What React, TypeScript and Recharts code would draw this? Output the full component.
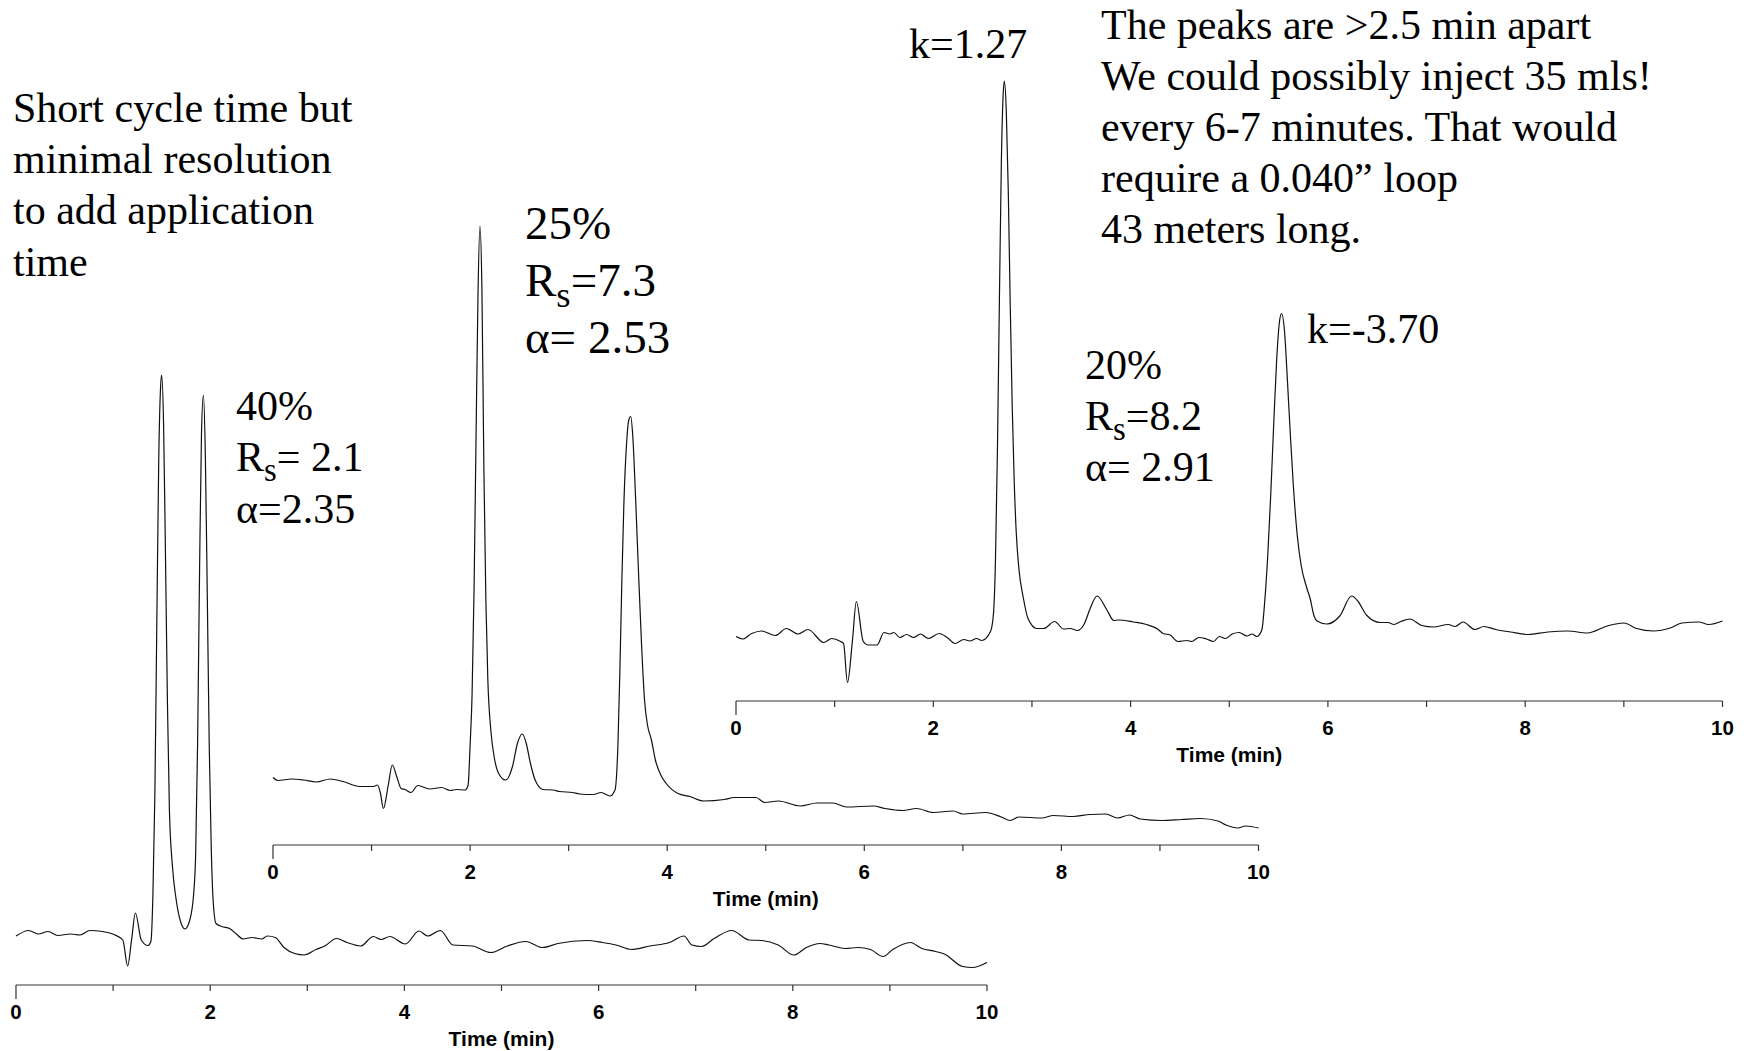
import { LineChart, Line, XAxis, YAxis } from "recharts";

// shared time axis
const timeTicks = [0, 1, 2, 3, 4, 5, 6, 7, 8, 9, 10];
const labelledTicks = [0, 2, 4, 6, 8, 10];

// 40% modifier run
const run40Time = [
  0, 0.13, 0.23, 0.33, 0.43, 0.56, 0.66, 0.76, 0.89, 1.02, 1.1, 1.15, 1.19, 1.23, 1.29, 1.36,
  1.39, 1.41, 1.43, 1.45, 1.47, 1.49, 1.5, 1.52, 1.54, 1.56, 1.58, 1.61, 1.65, 1.69, 1.74,
  1.79, 1.83, 1.85, 1.87, 1.89, 1.91, 1.93, 1.95, 1.97, 1.99, 2.01, 2.03, 2.06, 2.12, 2.2,
  2.27, 2.34, 2.43, 2.53, 2.59, 2.67, 2.76, 2.87, 2.97, 3.09, 3.18, 3.3, 3.41, 3.55, 3.68,
  3.76, 3.85, 4.01, 4.15, 4.24, 4.37, 4.5, 4.7, 4.89, 5.06, 5.25, 5.42, 5.58, 5.88, 6.04,
  6.18, 6.34, 6.53, 6.73, 6.88, 6.96, 7.06, 7.19, 7.37, 7.55, 7.68, 7.85, 8.01, 8.14, 8.28,
  8.37, 8.54, 8.67, 8.8, 8.93, 9.03, 9.21, 9.33, 9.47, 9.56, 9.75, 9.85, 10,
];
const run40Signal = [
  -0.2, 0.9, 0.2, 0.7, -0.1, 0.2, 0, 0.9, 0.7, 0, -1, -6.2, -1, 4.4, -1, -2.1,
  -1.2, 8, 28, 62, 95, 110, 112, 102, 75, 46, 25, 14, 7, 3, 1.2,
  3, 8.3, 16, 38, 72, 100, 108, 96, 68, 38, 18, 7, 2.3, 1.7, 1.3,
  0.2, -0.8, -0.5, -0.8, -0.2, -0.5, -2.5, -3.7, -4, -2.9, -2.2, -0.7, -1.5, -2.2, -0.3,
  -0.9, -0.3, -1.8, 0.8, -0.2, 0.9, -2, -2.2, -3.5, -2.2, -1.3, -2.5, -1.7, -1.1, -1.5,
  -2, -2.9, -2.2, -1.5, -0.2, -2, -2.3, -0.7, 0.9, -1, -1.1, -2, -4, -2.5, -1.7,
  -2, -2.7, -2.5, -2.9, -4.3, -2.9, -1.5, -2.7, -3.3, -3.8, -6.3, -6.5, -5.5,
];

// 25% modifier run
const run25Time = [
  0, 0.05, 0.19, 0.31, 0.44, 0.58, 0.71, 0.88, 1.02, 1.06, 1.09, 1.12, 1.17, 1.21, 1.26, 1.3,
  1.34, 1.4, 1.47, 1.59, 1.71, 1.8, 1.86, 1.95, 1.98, 2.0, 2.02, 2.04, 2.06, 2.08, 2.1,
  2.12, 2.14, 2.16, 2.18, 2.21, 2.25, 2.29, 2.36, 2.43, 2.48, 2.53, 2.57, 2.61, 2.66, 2.74,
  2.84, 2.91, 3.04, 3.11, 3.25, 3.33, 3.42, 3.47, 3.5, 3.52, 3.54, 3.56, 3.59, 3.61, 3.63,
  3.65, 3.68, 3.71, 3.74, 3.77, 3.8, 3.84, 3.88, 3.94, 3.99, 4.11, 4.23, 4.37, 4.58, 4.68,
  4.9, 4.99, 5.13, 5.35, 5.52, 5.68, 5.82, 6.09, 6.21, 6.39, 6.53, 6.7, 6.9, 7.0, 7.23,
  7.39, 7.48, 7.57, 7.8, 7.92, 8.12, 8.29, 8.45, 8.57, 8.69, 8.8, 9.02, 9.22, 9.41, 9.59,
  9.67, 9.79, 9.87, 10,
];
const run25Signal = [
  0.5, -0.1, 0.2, 0, -0.4, 0.2, -0.3, -1.3, -1.3, -1, -2.6, -5.7, -1, 3, 0.4, -1.7,
  -1.9, -2.5, -1.1, -1.8, -1.5, -2.1, -1.9, -2, -1, 7, 17, 38, 68, 97, 110.8,
  98, 62, 36, 20, 10, 4, 1.3, 0, 2.7, 7.3, 9.2, 7.3, 3.5, 0, -1.9,
  -2, -2.3, -2.5, -2.8, -2.9, -2.5, -3.2, -2, 7, 22, 40, 55, 68, 72, 72.7,
  69, 56, 41, 27, 16, 11, 8, 4, 0.8, -0.7, -2.7, -3.3, -4.2, -3.9, -3.5,
  -3.5, -4.5, -4.2, -5.2, -4.6, -4.6, -5.4, -5.2, -5.7, -6.1, -5.7, -6.5, -6.2, -6.8, -6.5,
  -7.4, -8.1, -7.4, -7.6, -7.1, -7.3, -6.9, -6.8, -7.6, -7, -7.8, -8.1, -7.9, -7.7, -8.2,
  -9, -9.6, -9.2, -9.6,
];

// 20% modifier run
const run20Time = [
  0, 0.07, 0.16, 0.26, 0.4, 0.51, 0.63, 0.73, 0.89, 0.97, 1.06, 1.09, 1.13, 1.18, 1.22, 1.29,
  1.34, 1.43, 1.5, 1.56, 1.6, 1.66, 1.73, 1.8, 1.87, 1.95, 2.06, 2.14, 2.22, 2.31, 2.37,
  2.44, 2.49, 2.58, 2.61, 2.63, 2.65, 2.67, 2.69, 2.71, 2.72, 2.74, 2.76, 2.78, 2.8, 2.82,
  2.84, 2.87, 2.91, 2.96, 3.05, 3.12, 3.23, 3.32, 3.39, 3.46, 3.53, 3.59, 3.66, 3.76, 3.83,
  3.88, 4.03, 4.16, 4.28, 4.33, 4.4, 4.48, 4.57, 4.62, 4.69, 4.77, 4.84, 4.9, 4.96, 5.03,
  5.1, 5.18, 5.23, 5.28, 5.33, 5.36, 5.39, 5.42, 5.45, 5.48, 5.51, 5.53, 5.56, 5.59, 5.62,
  5.65, 5.69, 5.73, 5.78, 5.82, 5.86, 5.89, 5.99, 6.12, 6.24, 6.31, 6.39, 6.53, 6.61, 6.67,
  6.74, 6.83, 6.95, 7.07, 7.22, 7.29, 7.37, 7.49, 7.58, 7.7, 7.85, 8.03, 8.23, 8.43, 8.63,
  8.83, 9.0, 9.13, 9.3, 9.47, 9.59, 9.76, 9.86, 10,
];
const run20Signal = [
  0.9, 0.4, 1.5, 2, 1.1, 2.5, 1.4, 2.3, -0.3, 0.5, -0.1, -0.5, -8.3, 0, 7.9, -0.1,
  -0.8, -0.8, 1.7, 1.4, 1.7, 0.7, 1.3, 0.7, 1.4, 0.5, 1.5, 0.7, -0.5, 0.3, 0,
  0.5, 0.1, 1.9, 5.5, 16, 38, 68, 96, 110, 112, 106, 90, 67, 47, 32,
  22, 14, 8.9, 4.5, 2.5, 2.5, 3.9, 2.4, 2.5, 2.1, 3.4, 6.5, 9, 6.2, 4.1,
  4.2, 3.8, 3.3, 2.3, 1.5, 1.2, -0.1, 0.1, -0.1, 0.7, 0.4, -0.1, 0.9, 0.5, 1.4,
  1.7, 1, 1.4, 0.9, 2.2, 8, 17, 29, 43, 56, 64, 65.5, 62, 52, 41,
  31, 21, 15, 11, 8.5, 5, 4, 3.4, 5, 9, 7.8, 5.2, 3.7, 3.7, 3.3,
  3.9, 4.4, 3.1, 2.8, 3.3, 2.9, 3.8, 2.3, 2.9, 2.3, 1.8, 1.3, 1.8, 2, 1.6,
  3, 3.6, 2.5, 2, 2.6, 3.6, 3.8, 3.3, 4,
];

const leftNote = ["Short cycle time but", "minimal resolution", "to add application", "time"];
const rightNote = [
  "The peaks are >2.5 min apart",
  "We could possibly inject 35 mls!",
  "every 6-7 minutes. That would",
  "require a 0.040\u201D loop",
  "43 meters long.",
];

const W = 1750;
const H = 1051;
const serif = "'Times New Roman', 'Liberation Serif', serif";
const sans = "Arial, 'Liberation Sans', sans-serif";
const ink = "#111";

// ticks hang below the axis line; the tick at 5 (axis centre) also carries the title
const TimeTick = (props: any) => {
  const { x, y, payload } = props;
  const v = payload.value as number;
  return (
    <g>
      <line x1={x} x2={x} y1={y} y2={y + (v === 0 ? 14 : 6)} stroke="#333" strokeWidth={1.2} />
      {labelledTicks.includes(v) && (
        <text x={x} y={y + 34} textAnchor="middle" fontFamily={sans} fontWeight="bold" fontSize={20.5} fill="#000">
          {v}
        </text>
      )}
      {v === 5 && (
        <text x={x} y={y + 61} textAnchor="middle" fontFamily={sans} fontWeight="bold" fontSize={21} fill="#000">
          Time (min)
        </text>
      )}
    </g>
  );
};

type RunProps = {
  time: number[];
  signal: number[];
  domain: [number, number];
  margin: { top: number; right: number; bottom: number; left: number };
};

function Chromatogram({ time, signal, domain, margin }: RunProps) {
  const data = time.map((t, i) => ({ t, v: signal[i] }));
  return (
    <div style={{ position: "absolute", left: 0, top: 0 }}>
      <LineChart width={W} height={H} data={data} margin={margin}>
        <XAxis
          dataKey="t"
          type="number"
          domain={[0, 10]}
          ticks={timeTicks}
          interval={0}
          tickSize={0}
          tickMargin={0}
          tickLine={false}
          axisLine={{ stroke: "#333", strokeWidth: 1.2 }}
          tick={(p: any) => <TimeTick {...p} />}
          height={66}
        />
        <YAxis hide type="number" domain={domain} />
        <Line
          dataKey="v"
          type="monotone"
          stroke={ink}
          strokeWidth={1.2}
          dot={false}
          activeDot={false}
          isAnimationActive={false}
        />
      </LineChart>
    </div>
  );
}

// stacked text block, one <text> per line
function Block({ lines, x, y, size, lead }: { lines: string[]; x: number; y: number; size: number; lead: number }) {
  return (
    <g>
      {lines.map((s, i) => (
        <text key={i} x={x} y={y + i * lead} fontFamily={serif} fontSize={size} fill="#000">
          {s}
        </text>
      ))}
    </g>
  );
}

// percent / Rs / alpha summary for one run
function RunStats({ pct, rs, alpha, x, y, size, lead }: { pct: string; rs: string; alpha: string; x: number; y: number; size: number; lead: number }) {
  const sub = size * 0.24;
  return (
    <g fontFamily={serif} fill="#000">
      <text x={x} y={y} fontSize={size}>{pct}</text>
      <text x={x} y={y + lead} fontSize={size}>
        R
        <tspan fontSize={size * 0.78} dy={sub}>s</tspan>
        <tspan dy={-sub}>{rs}</tspan>
      </text>
      <text x={x} y={y + 2 * lead} fontSize={size}>{"\u03B1" + alpha}</text>
    </g>
  );
}

export default function App() {
  return (
    <div style={{ position: "absolute", left: 0, top: 0, width: W, height: H, background: "#fff", overflow: "hidden" }}>
      <Chromatogram
        time={run40Time}
        signal={run40Signal}
        domain={[-10, 114]}
        margin={{ top: 365, left: 16, right: W - 987, bottom: 0 }}
      />
      <Chromatogram
        time={run25Time}
        signal={run25Signal}
        domain={[-13, 113]}
        margin={{ top: 215, left: 273, right: W - 1258.5, bottom: H - 845 - 66 }}
      />
      <Chromatogram
        time={run20Time}
        signal={run20Signal}
        domain={[-12, 114]}
        margin={{ top: 71, left: 736, right: W - 1722.5, bottom: H - 701 - 66 }}
      />
      <svg width={W} height={H} style={{ position: "absolute", left: 0, top: 0, pointerEvents: "none" }}>
        <Block lines={leftNote} x={13} y={122} size={42} lead={51.2} />
        <Block lines={rightNote} x={1101} y={38.5} size={42} lead={51.2} />
        <RunStats pct="40%" rs="= 2.1" alpha="=2.35" x={236} y={419.5} size={42} lead={51.5} />
        <RunStats pct="25%" rs="=7.3" alpha="= 2.53" x={525} y={238.8} size={47} lead={57.2} />
        <RunStats pct="20%" rs="=8.2" alpha="= 2.91" x={1085} y={378.5} size={42} lead={51.3} />
        <text x={909} y={58} fontFamily={serif} fontSize={42} fill="#000">k=1.27</text>
        <text x={1307} y={342.5} fontFamily={serif} fontSize={42} fill="#000">k=-3.70</text>
      </svg>
    </div>
  );
}
